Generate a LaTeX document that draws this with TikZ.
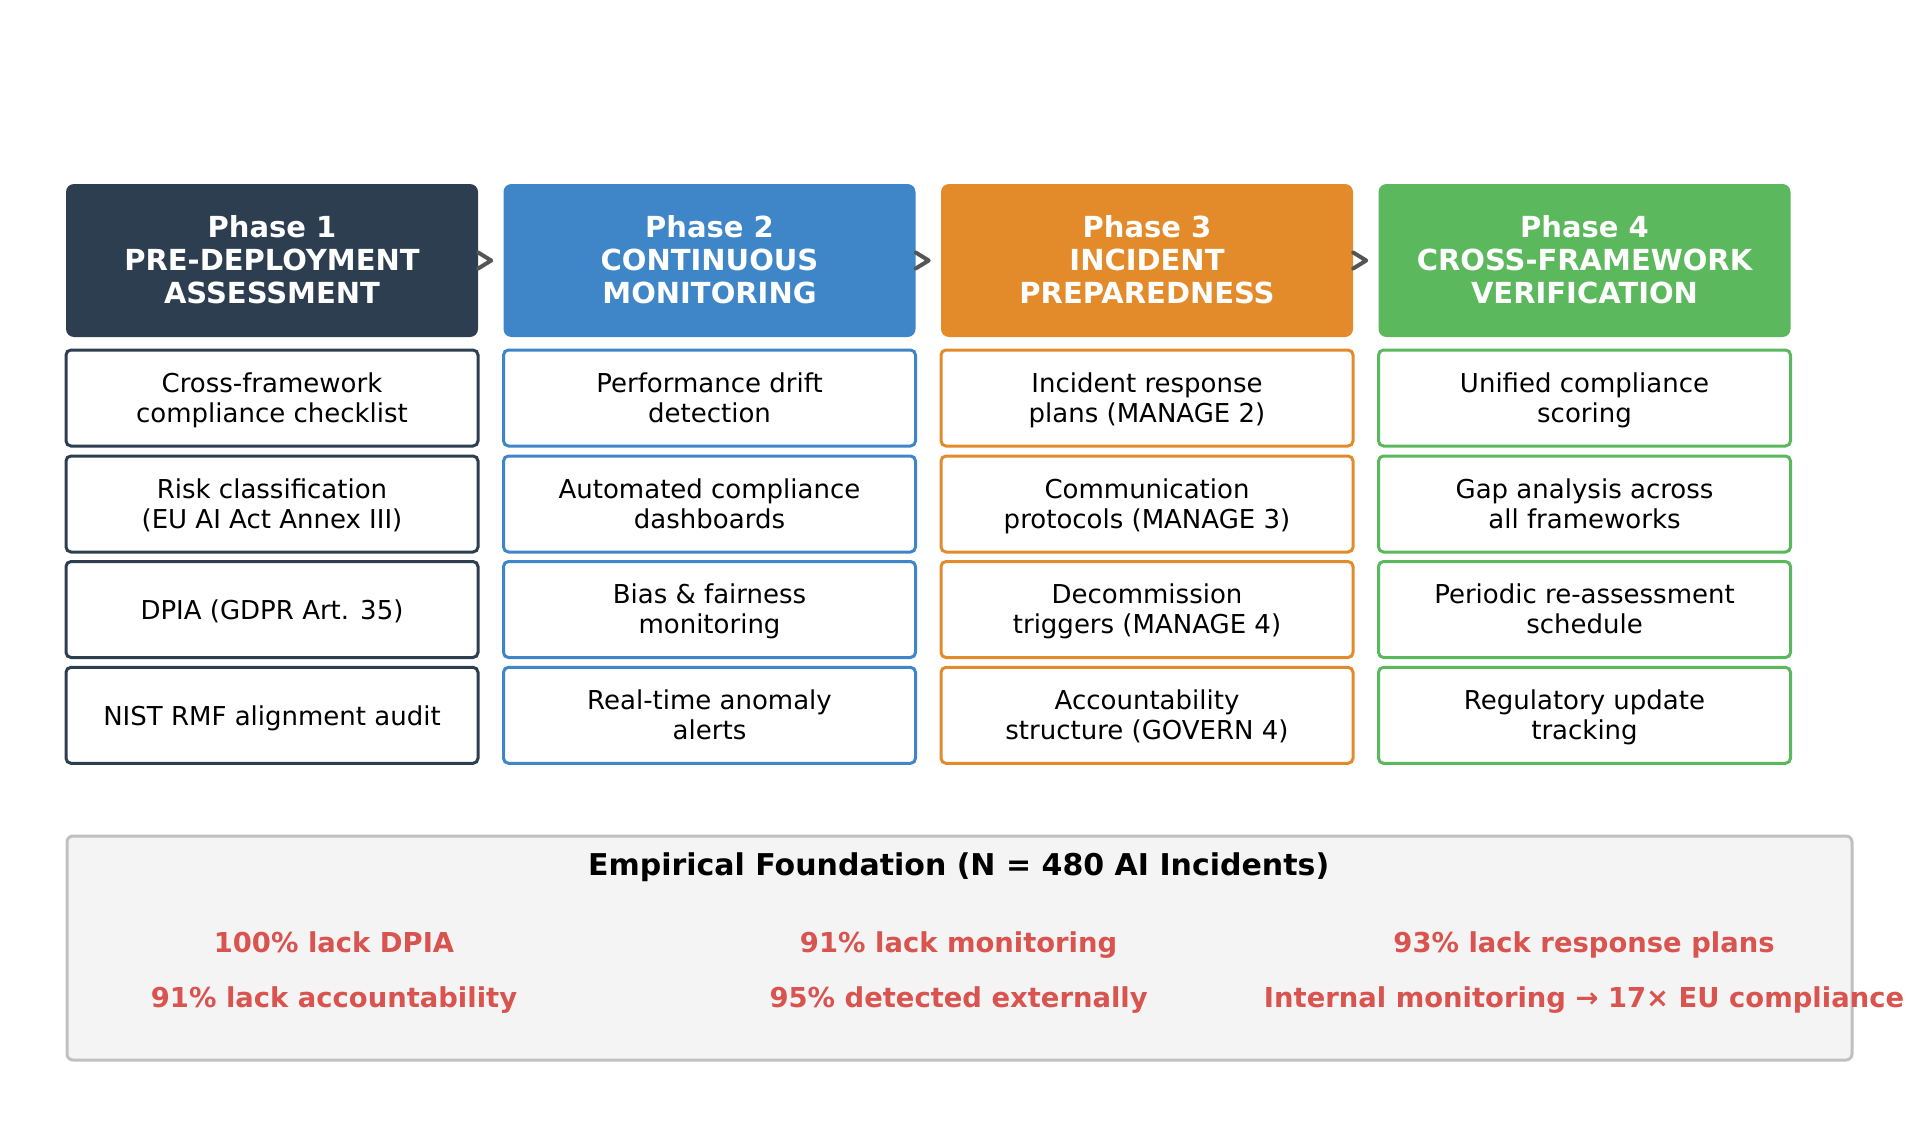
\documentclass[tikz,border=0pt]{standalone}
\usepackage{fontspec}
\setmainfont{DejaVu Sans}
\usetikzlibrary{calc}
\definecolor{cA}{HTML}{2C3E50}
\definecolor{cB}{HTML}{3E86C8}
\definecolor{cC}{HTML}{E38B2A}
\definecolor{cD}{HTML}{5CB85C}
\definecolor{statred}{HTML}{D9534F}
\definecolor{panelfill}{HTML}{F4F4F4}
\definecolor{panelline}{HTML}{C0C0C0}
\definecolor{chev}{HTML}{555555}
\tikzset{
  struts/.style={execute at begin node={\rule{0pt}{#1}}, execute at end node=\strut},
  header/.style={execute at begin node=\strut, text depth=2.4pt, fill=#1, draw=none, rounded corners=8pt,
    minimum width=412pt, minimum height=153pt,
    inner sep=0pt, align=center, text=white, font=\bfseries\fontsize{29}{32.7}\selectfont},
  item/.style={execute at begin node=\strut, text depth=1.6pt, fill=white, draw=#1, line width=3pt, rounded corners=5pt,
    minimum width=412pt, minimum height=96pt,
    inner sep=0pt, align=center, text=black, font=\fontsize{26}{30}\selectfont},
  chevron/.style={draw=chev, line width=4pt, line cap=round, line join=round},
  stat/.style={struts=28.4pt, text=statred, font=\bfseries\fontsize{27.4}{30}\selectfont, inner sep=0pt},
}
\begin{document}
\begin{tikzpicture}[x=1pt,y=-1pt]
\useasboundingbox (0,0) rectangle (1927,1145);
% headers
\node[header=cA] (h1) at (272,260.5) {Phase 1\\PRE-DEPLOYMENT\\ASSESSMENT};
\node[header=cB] (h2) at (709.5,260.5) {Phase 2\\CONTINUOUS\\MONITORING};
\node[header=cC] (h3) at (1147,260.5) {Phase 3\\INCIDENT\\PREPAREDNESS};
\node[header=cD] (h4) at (1584.5,260.5) {Phase 4\\CROSS-FRAMEWORK\\VERIFICATION};
% chevrons
\foreach \h in {h1,h2,h3}{
  \draw[chevron] ($(\h.east)+(0,-8)$) -- ++(13,8) -- ++(-13,8);
}
% column 1
\node[item=cA] (a1) at (272,398) {Cross-framework\\compliance checklist};
\node[item=cA] (a2) at (272,504) {Risk classification\\(EU AI Act Annex III)};
\node[item=cA] (a3) at (272,609.5) {DPIA (GDPR Art. 35)};
\node[item=cA] (a4) at (272,715.3) {NIST RMF alignment audit};
% column 2
\node[item=cB] (b1) at (709.5,398) {Performance drift\\detection};
\node[item=cB] (b2) at (709.5,504) {Automated compliance\\dashboards};
\node[item=cB] (b3) at (709.5,609.5) {Bias \& fairness\\monitoring};
\node[item=cB] (b4) at (709.5,715.3) {Real-time anomaly\\alerts};
% column 3
\node[item=cC] (c1) at (1147,398) {Incident response\\plans (MANAGE 2)};
\node[item=cC] (c2) at (1147,504) {Communication\\protocols (MANAGE 3)};
\node[item=cC] (c3) at (1147,609.5) {Decommission\\triggers (MANAGE 4)};
\node[item=cC] (c4) at (1147,715.3) {Accountability\\structure (GOVERN 4)};
% column 4
\node[item=cD] (d1) at (1584.5,398) {Unified compliance\\scoring};
\node[item=cD] (d2) at (1584.5,504) {Gap analysis across\\all frameworks};
\node[item=cD] (d3) at (1584.5,609.5) {Periodic re-assessment\\schedule};
\node[item=cD] (d4) at (1584.5,715.3) {Regulatory update\\tracking};
% panel
\node[fill=panelfill, draw=panelline, line width=3pt, rounded corners=6pt, minimum width=1785pt, minimum height=224pt, inner sep=0pt] (panel) at (959.5,948) {};
\node[struts=29.8pt, font=\bfseries\fontsize{30}{32}\selectfont, text=black, inner sep=0pt] (title) at (958.6,865) {Empirical Foundation (N = 480 AI Incidents)};
\node[stat] (s1) at (334,943) {100\% lack DPIA};
\node[stat] (s2) at (958.6,943) {91\% lack monitoring};
\node[stat] (s3) at (1584,943) {93\% lack response plans};
\node[stat] (s4) at (334,998) {91\% lack accountability};
\node[stat] (s5) at (958.6,998) {95\% detected externally};
\node[stat] (s6) at (1584,998) {Internal monitoring → 17× EU compliance};
\end{tikzpicture}
\end{document}
